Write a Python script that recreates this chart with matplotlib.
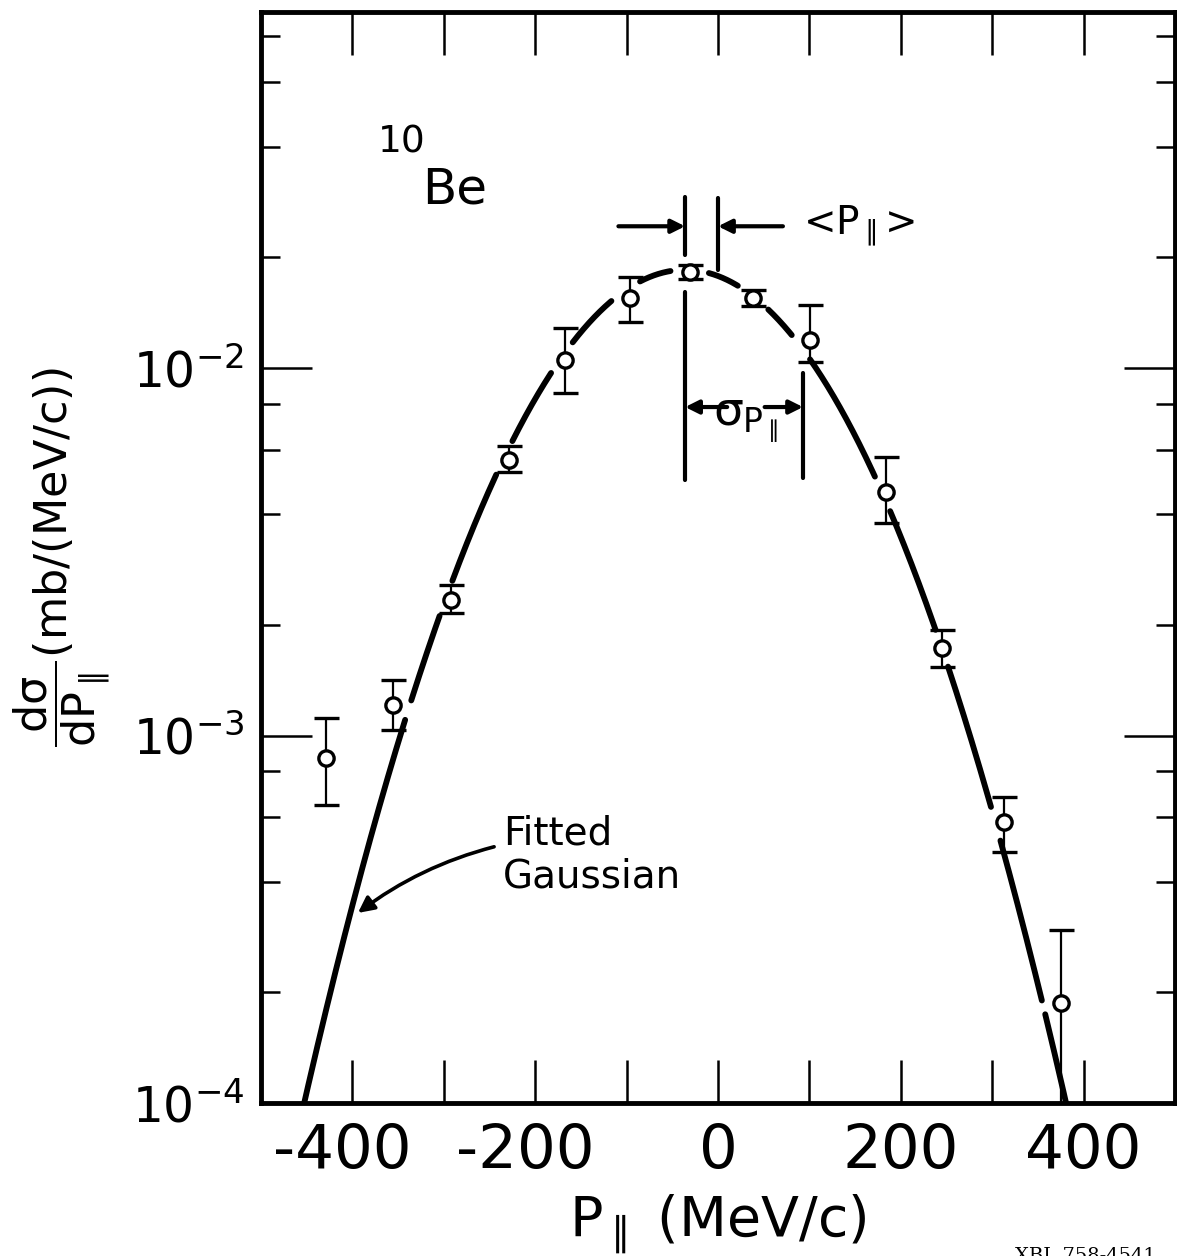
import numpy as np
import matplotlib
matplotlib.use('Agg')
import matplotlib.pyplot as plt
from matplotlib.ticker import FixedLocator, FixedFormatter, LogLocator, NullFormatter, LogFormatterMathtext

plt.rcParams['font.family'] = ['DejaVu Sans']
plt.rcParams['mathtext.fontset'] = 'custom'
plt.rcParams['mathtext.rm'] = 'DejaVu Sans'
plt.rcParams['mathtext.it'] = 'DejaVu Sans'
plt.rcParams['mathtext.sf'] = 'DejaVu Sans'
plt.rcParams['mathtext.bf'] = 'DejaVu Sans:bold'
plt.rcParams['axes.unicode_minus'] = False

# 10Be longitudinal momentum distribution
p_par = [-429, -356, -292, -229, -167, -96, -31, 38, 101, 184, 245, 313, 375]
xsec = [8.69e-4, 1.21e-3, 2.34e-3, 5.62e-3, 1.05e-2, 1.55e-2, 1.82e-2,
        1.55e-2, 1.19e-2, 4.60e-3, 1.73e-3, 5.82e-4, 1.87e-4]
xsec_hi = [1.116e-3, 1.416e-3, 2.57e-3, 6.14e-3, 1.285e-2, 1.77e-2, 1.91e-2,
           1.63e-2, 1.48e-2, 5.73e-3, 1.94e-3, 6.80e-4, 2.96e-4]
xsec_lo = [6.47e-4, 1.035e-3, 2.15e-3, 5.21e-3, 8.55e-3, 1.33e-2, 1.75e-2,
           1.475e-2, 1.04e-2, 3.79e-3, 1.54e-3, 4.82e-4, 5e-5]

# fitted gaussian parameters
gauss_amp = 0.0185
gauss_mean = -36
gauss_sigma = 129

x_ticks = [-400, -200, 0, 200, 400]
x_labels = ['-400\u2004', '-200\u2004', '0', '200', '400']
x_minor = [-300, -100, 100, 300]
y_ticks = [1e-4, 1e-3, 1e-2]

fig = plt.figure(figsize=(11.77, 12.56), dpi=100)
ax = fig.add_axes([0.2218, 0.1218, 0.7765, 0.8686])
ax.set_xlim(-500, 500)
ax.set_yscale('log')
ax.set_ylim(1e-4, 0.093)

p = np.array(p_par)
y = np.array(xsec)
yerr = [y - np.array(xsec_lo), np.array(xsec_hi) - y]

# gaussian curve, broken around the data points like the hand drawing
pc = np.linspace(-500, 500, 3001)
yc = gauss_amp * np.exp(-(pc - gauss_mean) ** 2 / (2 * gauss_sigma ** 2))
pts_d = ax.transData.transform(np.column_stack([p[1:], y[1:]]))
crv_d = ax.transData.transform(np.column_stack([pc, yc]))
dist = np.min(np.hypot(crv_d[:, None, 0] - pts_d[None, :, 0],
                       crv_d[:, None, 1] - pts_d[None, :, 1]), axis=1)
yc_m = np.where(dist < 19, np.nan, yc)
ax.plot(pc, yc_m, color='k', lw=4.2, solid_capstyle='round', zorder=2)

ax.errorbar(p, y, yerr=yerr, fmt='o', ms=11, mfc='white', mec='k', mew=2.4,
            ecolor='k', elinewidth=1.6, capsize=9, capthick=1.8, zorder=3)

# axes styling
for s in ax.spines.values():
    s.set_linewidth(3.5)
ax.xaxis.set_major_locator(FixedLocator(x_ticks))
ax.xaxis.set_major_formatter(FixedFormatter(x_labels))
ax.xaxis.set_minor_locator(FixedLocator(x_minor))
ax.yaxis.set_major_locator(FixedLocator(y_ticks))
ax.yaxis.set_major_formatter(LogFormatterMathtext())
ax.yaxis.set_minor_locator(LogLocator(subs=[2, 4, 6, 8]))
ax.yaxis.set_minor_formatter(NullFormatter())
ax.tick_params(axis='x', which='both', direction='in', top=True, length=31,
               width=1.8, labelsize=44, pad=14)
ax.tick_params(axis='y', which='major', direction='in', right=True, length=37,
               width=1.8, labelsize=35, pad=12)
ax.tick_params(axis='y', which='minor', direction='in', right=True, length=14,
               width=1.8)

ax.set_xlabel(r'$\mathrm{P}_{\parallel}$ (MeV/c)', fontsize=40, labelpad=8)
ax.set_ylabel(r'$\dfrac{\mathrm{d}\sigma}{\mathrm{dP}_{\parallel}}$(mb/(MeV/c))', fontsize=32)
ax.yaxis.set_label_coords(-0.163, 0.5)

# isotope label
ax.text(-372, 3.85e-2, '10', fontsize=27, ha='left', va='baseline')
ax.text(-324, 2.81e-2, 'Be', fontsize=36, ha='left', va='baseline')

# <P> marker lines and arrows
lk = dict(color='k', lw=3, solid_capstyle='round')
ax.plot([gauss_mean, gauss_mean], [2.03e-2, 2.92e-2], **lk)
ax.plot([gauss_mean, gauss_mean], [4.95e-3, 1.61e-2], **lk)
ax.plot([0, 0], [1.85e-2, 2.90e-2], **lk)
ax.plot([gauss_mean + gauss_sigma] * 2, [5.02e-3, 9.69e-3], **lk)
ap = dict(arrowstyle='-|>', lw=3, color='k', mutation_scale=20, shrinkA=0, shrinkB=0)
ax.annotate('', xy=(gauss_mean, 2.43e-2), xytext=(-109, 2.43e-2), arrowprops=ap)
ax.annotate('', xy=(0, 2.43e-2), xytext=(71, 2.43e-2), arrowprops=ap)
ax.text(93, 2.43e-2, r'<$\mathrm{P}_{\parallel}$>', fontsize=28, ha='left', va='center')
ax.annotate('', xy=(gauss_mean, 7.83e-3), xytext=(10, 7.83e-3), arrowprops=ap)
ax.annotate('', xy=(gauss_mean + gauss_sigma, 7.83e-3), xytext=(51, 7.83e-3), arrowprops=ap)
ax.text(30, 7.0e-3, r'$\sigma_{\mathrm{P}_{\parallel}}$', fontsize=34, ha='center', va='baseline')

# fitted gaussian label
ax.text(-235, 5.04e-4, 'Fitted', fontsize=28, ha='left', va='baseline')
ax.text(-235, 3.85e-4, 'Gaussian', fontsize=28, ha='left', va='baseline')
ax.annotate('', xy=(-394, 3.29e-4), xytext=(-245, 4.98e-4),
            arrowprops=dict(arrowstyle='-|>', lw=2.6, color='k', mutation_scale=24,
                            shrinkA=0, shrinkB=0, connectionstyle='arc3,rad=0.1'))

fig.text(0.862, 0.0, 'XBL 758-4541', fontsize=14, family='DejaVu Serif',
         ha='left', va='center')

fig.savefig('out.png', dpi=100)
